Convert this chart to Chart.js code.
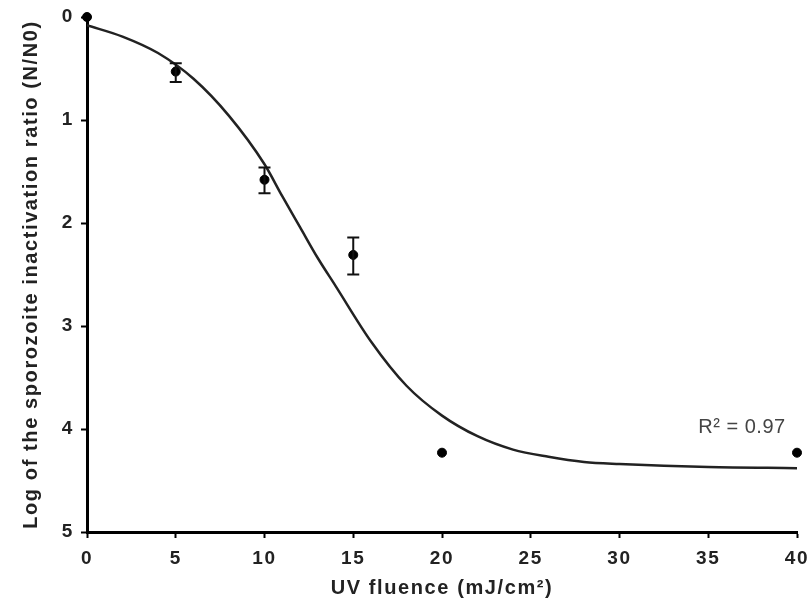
<!DOCTYPE html>
<html>
<head>
<meta charset="utf-8">
<script src="https://cdn.jsdelivr.net/npm/chart.js@4/dist/chart.umd.min.js"></script>
<style>
  html, body { margin: 0; padding: 0; background: #fff; }
  #grafico { display: block; }
</style>
</head>
<body>
<canvas id="grafico" width="808" height="605"></canvas>
<script>
// Datos medidos (fluencia UV y log de inactivación)
const fluencia = [0, 5, 10, 15, 20, 40];
const logInactivacion = [0, 0.53, 1.58, 2.31, 4.23, 4.23];
const errorBajo = [null, 0.45, 1.46, 2.14, null, null];
const errorAlto = [null, 0.63, 1.71, 2.50, null, null];

// Curva ajustada
const curvaX = [0, 2, 4, 6, 8, 10, 11, 12, 13, 14, 16, 18, 20, 22, 24, 26, 28, 30, 35, 40];
const curvaY = [0.08, 0.19, 0.35, 0.60, 0.96, 1.43, 1.74, 2.04, 2.34, 2.61, 3.15, 3.58, 3.87, 4.07, 4.20, 4.27, 4.32, 4.34, 4.37, 4.38];

const ticksX = [0, 5, 10, 15, 20, 25, 30, 35, 40];
const ticksY = [0, 1, 2, 3, 4, 5];

const etiquetaR2 = 'R² = 0.97';
const posicionR2 = { x: 36.9, y: 3.99 };

const fuente = '"Liberation Sans", Arial, sans-serif';

// Plugin para el espaciado de letras (el original tiene texto espaciado)
const espaciado = {
  id: 'espaciado',
  beforeDraw(chart) {
    chart.ctx.letterSpacing = '1.6px';
  }
};

// Plugin para las barras de error
const barrasError = {
  id: 'barrasError',
  afterDatasetsDraw(chart) {
    const ctx = chart.ctx;
    const x = chart.scales.x;
    const y = chart.scales.y;
    ctx.save();
    ctx.strokeStyle = '#111';
    ctx.lineWidth = 2;
    fluencia.forEach((f, i) => {
      if (errorBajo[i] == null) return;
      const px = x.getPixelForValue(f);
      const y1 = y.getPixelForValue(errorBajo[i]);
      const y2 = y.getPixelForValue(errorAlto[i]);
      ctx.beginPath();
      ctx.moveTo(px, y1); ctx.lineTo(px, y2);
      ctx.moveTo(px - 6, y1); ctx.lineTo(px + 6, y1);
      ctx.moveTo(px - 6, y2); ctx.lineTo(px + 6, y2);
      ctx.stroke();
    });
    // texto del R²
    ctx.letterSpacing = '0.5px';
    ctx.fillStyle = '#444';
    ctx.font = '20px ' + fuente;
    ctx.textAlign = 'center';
    ctx.textBaseline = 'middle';
    ctx.fillText(etiquetaR2, x.getPixelForValue(posicionR2.x), y.getPixelForValue(posicionR2.y));
    ctx.restore();
  }
};

const canvas = document.getElementById('grafico');
new Chart(canvas, {
  type: 'scatter',
  data: {
    datasets: [
      {
        label: 'Ajuste',
        data: curvaX.map((v, i) => ({ x: v, y: curvaY[i] })),
        showLine: true,
        borderColor: '#222',
        borderWidth: 2.5,
        pointRadius: 0,
        cubicInterpolationMode: 'monotone',
        order: 2
      },
      {
        label: 'Datos',
        data: fluencia.map((v, i) => ({ x: v, y: logInactivacion[i] })),
        backgroundColor: '#000',
        borderColor: '#000',
        pointRadius: 4.5,
        clip: false,
        order: 1
      }
    ]
  },
  options: {
    responsive: false,
    animation: false,
    layout: { padding: { top: 17, right: 11, left: 0, bottom: 0 } },
    plugins: {
      legend: { display: false },
      tooltip: { enabled: false }
    },
    scales: {
      x: {
        type: 'linear',
        min: 0,
        max: 40,
        afterFit: (s) => { s.height = 73; s.paddingLeft = 0; s.paddingRight = 0; },
        afterBuildTicks: (s) => { s.ticks = ticksX.map(v => ({ value: v })); },
        border: { display: true, color: '#000', width: 3 },
        grid: { drawOnChartArea: false, drawTicks: true, tickLength: 6, tickWidth: 2, tickColor: '#000' },
        ticks: { color: '#222', padding: 9, font: { family: fuente, size: 19, weight: 'bold' } },
        title: {
          display: true,
          text: 'UV fluence (mJ/cm²)',
          color: '#222',
          padding: { top: 0, bottom: 5 },
          font: { family: fuente, size: 20, weight: 'bold' }
        }
      },
      y: {
        type: 'linear',
        min: 0,
        max: 5,
        reverse: true,
        afterFit: (s) => { s.width = 87; s.paddingTop = 0; s.paddingBottom = 0; },
        afterBuildTicks: (s) => { s.ticks = ticksY.map(v => ({ value: v })); },
        border: { display: true, color: '#000', width: 3 },
        grid: { drawOnChartArea: false, drawTicks: true, tickLength: 6, tickWidth: 2, tickColor: '#000' },
        ticks: { color: '#222', padding: 7, font: { family: fuente, size: 19, weight: 'bold' } },
        title: {
          display: true,
          text: 'Log of the sporozoite inactivation ratio (N/N0)',
          color: '#222',
          padding: { top: 19, bottom: 0 },
          font: { family: fuente, size: 20, weight: 'bold' }
        }
      }
    }
  },
  plugins: [espaciado, barrasError]
});
</script>
</body>
</html>
